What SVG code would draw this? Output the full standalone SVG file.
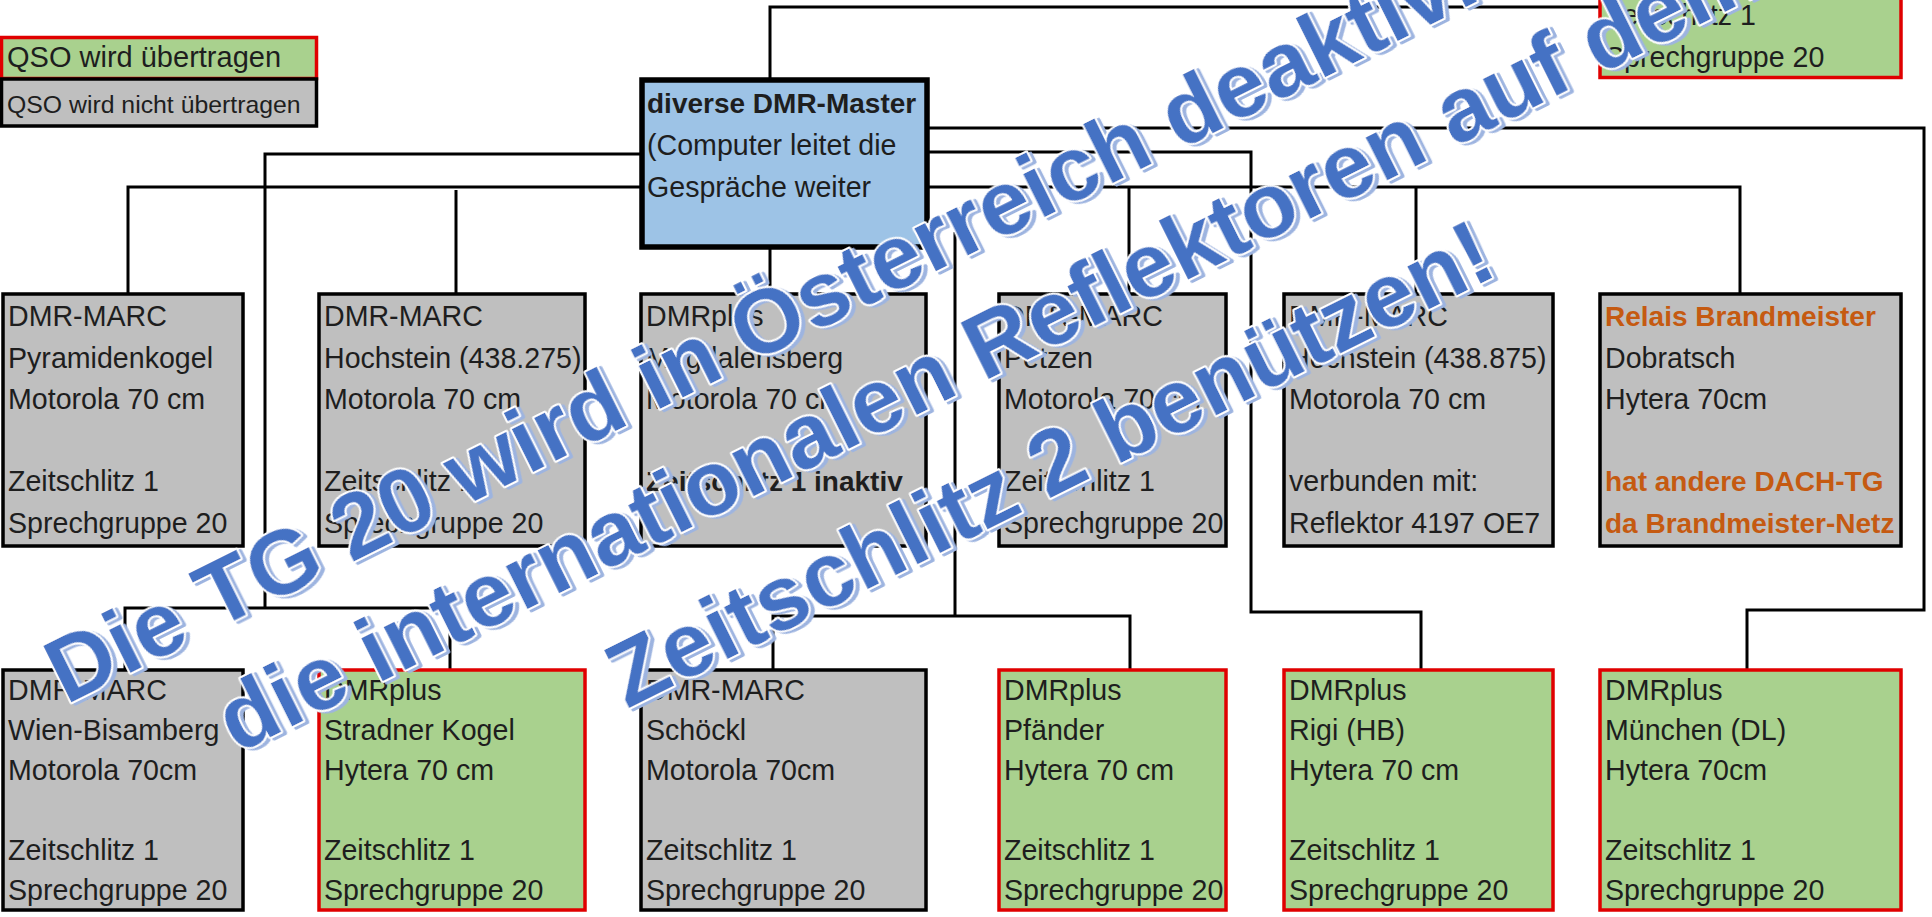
<svg xmlns="http://www.w3.org/2000/svg" width="1932" height="917" viewBox="0 0 1932 917">
<defs>
<style>
text{font-family:"Liberation Sans",Arial,sans-serif;font-size:28.6px;fill:#1e1e1e}
.gy{fill:#BFBFBF;stroke:#000;stroke-width:3.5}
.gn{fill:#A9D18E;stroke:#E00000;stroke-width:3.5}
.ms{fill:#9DC3E6;stroke:#000;stroke-width:5.5}
.b{font-weight:bold;font-size:28px}
.o{fill:#C55A11;font-weight:bold;font-size:28px}
.c path{stroke:#000;stroke-width:3;fill:none}
.ov{font-family:"Liberation Sans",Arial,sans-serif;font-size:91px;font-weight:bold;fill:#4472C4;stroke:#fff;stroke-width:4;paint-order:stroke;stroke-linejoin:round}
</style>
<filter id="sh" x="-5%" y="-20%" width="110%" height="140%">
<feOffset in="SourceAlpha" dx="3" dy="3" result="o"/>
<feFlood flood-color="#9DB4E0"/>
<feComposite in2="o" operator="in" result="s"/>
<feMerge><feMergeNode in="s"/><feMergeNode in="SourceGraphic"/></feMerge>
</filter>
</defs>
<rect width="1932" height="917" fill="#fff"/>

<g id="legend">
<rect class="gn" x="1.5" y="37.5" width="315" height="41"/>
<rect class="gy" x="1.5" y="79" width="315" height="47"/>
<text x="7" y="67" style="font-size:29px">QSO wird übertragen</text>
<text x="7" y="113" style="font-size:24.8px">QSO wird nicht übertragen</text>
</g>

<g class="c" id="connectors">
<path d="M770 80V7H1600"/>
<path d="M642 154H265V608"/>
<path d="M125 670V608H450V670"/>
<path d="M642 187H128V294"/>
<path d="M456 190V294"/>
<path d="M770 247V294"/>
<path d="M927 128H1924V610H1747V670"/>
<path d="M927 152H1251V612H1421V670"/>
<path d="M927 187H1740V294"/>
<path d="M1129 187V294"/>
<path d="M1416 187V294"/>
<path d="M955 232V616"/>
<path d="M773 670V616H1130V670"/>
</g>

<g id="top-partial">
<rect class="gn" x="1600" y="-20" width="301" height="97.5"/>
<text x="1605" y="25">Zeitschlitz 1</text>
<text x="1605" y="67">Sprechgruppe 20</text>
</g>

<g id="master">
<rect class="ms" x="642" y="80" width="285" height="167"/>
<text x="647" y="113" class="b">diverse DMR-Master</text>
<text x="647" y="155">(Computer leitet die</text>
<text x="647" y="197">Gespräche weiter</text>
</g>

<g id="pyramidenkogel">
<rect class="gy" x="3" y="294" width="240" height="252"/>
<text x="8" y="326">DMR-MARC</text>
<text x="8" y="368">Pyramidenkogel</text>
<text x="8" y="409">Motorola 70 cm</text>
<text x="8" y="491">Zeitschlitz 1</text>
<text x="8" y="533">Sprechgruppe 20</text>
</g>

<g id="hochstein275">
<rect class="gy" x="319" y="294" width="266" height="252"/>
<text x="324" y="326">DMR-MARC</text>
<text x="324" y="368">Hochstein (438.275)</text>
<text x="324" y="409">Motorola 70 cm</text>
<text x="324" y="491">Zeitschlitz 1</text>
<text x="324" y="533">Sprechgruppe 20</text>
</g>

<g id="magdalensberg">
<rect class="gy" x="641" y="294" width="285" height="252"/>
<text x="646" y="326">DMRplus</text>
<text x="646" y="368">Magdalensberg</text>
<text x="646" y="409">Motorola 70 cm</text>
<text x="646" y="491" class="b">Zeitschlitz 1 inaktiv</text>
</g>

<g id="petzen">
<rect class="gy" x="999" y="294" width="227" height="252"/>
<text x="1004" y="326">DMR-MARC</text>
<text x="1004" y="368">Petzen</text>
<text x="1004" y="409">Motorola 70 cm</text>
<text x="1004" y="491">Zeitschlitz 1</text>
<text x="1004" y="533">Sprechgruppe 20</text>
</g>

<g id="hochstein875">
<rect class="gy" x="1284" y="294" width="269" height="252"/>
<text x="1289" y="326">DMR-MARC</text>
<text x="1289" y="368">Hochstein (438.875)</text>
<text x="1289" y="409">Motorola 70 cm</text>
<text x="1289" y="491">verbunden mit:</text>
<text x="1289" y="533">Reflektor 4197 OE7</text>
</g>

<g id="dobratsch">
<rect class="gy" x="1600" y="294" width="301" height="252"/>
<text x="1605" y="326" class="o">Relais Brandmeister</text>
<text x="1605" y="368">Dobratsch</text>
<text x="1605" y="409">Hytera 70cm</text>
<text x="1605" y="491" class="o">hat andere DACH-TG</text>
<text x="1605" y="533" class="o">da Brandmeister-Netz</text>
</g>

<g id="bisamberg">
<rect class="gy" x="3" y="670" width="240" height="240"/>
<text x="8" y="700">DMR-MARC</text>
<text x="8" y="740">Wien-Bisamberg</text>
<text x="8" y="780">Motorola 70cm</text>
<text x="8" y="860">Zeitschlitz 1</text>
<text x="8" y="900">Sprechgruppe 20</text>
</g>

<g id="stradner">
<rect class="gn" x="319" y="670" width="266" height="240"/>
<text x="324" y="700">DMRplus</text>
<text x="324" y="740">Stradner Kogel</text>
<text x="324" y="780">Hytera 70 cm</text>
<text x="324" y="860">Zeitschlitz 1</text>
<text x="324" y="900">Sprechgruppe 20</text>
</g>

<g id="schoeckl">
<rect class="gy" x="641" y="670" width="285" height="240"/>
<text x="646" y="700">DMR-MARC</text>
<text x="646" y="740">Schöckl</text>
<text x="646" y="780">Motorola 70cm</text>
<text x="646" y="860">Zeitschlitz 1</text>
<text x="646" y="900">Sprechgruppe 20</text>
</g>

<g id="pfaender">
<rect class="gn" x="999" y="670" width="227" height="240"/>
<text x="1004" y="700">DMRplus</text>
<text x="1004" y="740">Pfänder</text>
<text x="1004" y="780">Hytera 70 cm</text>
<text x="1004" y="860">Zeitschlitz 1</text>
<text x="1004" y="900">Sprechgruppe 20</text>
</g>

<g id="rigi">
<rect class="gn" x="1284" y="670" width="269" height="240"/>
<text x="1289" y="700">DMRplus</text>
<text x="1289" y="740">Rigi (HB)</text>
<text x="1289" y="780">Hytera 70 cm</text>
<text x="1289" y="860">Zeitschlitz 1</text>
<text x="1289" y="900">Sprechgruppe 20</text>
</g>

<g id="muenchen">
<rect class="gn" x="1600" y="670" width="301" height="240"/>
<text x="1605" y="700">DMRplus</text>
<text x="1605" y="740">München (DL)</text>
<text x="1605" y="780">Hytera 70cm</text>
<text x="1605" y="860">Zeitschlitz 1</text>
<text x="1605" y="900">Sprechgruppe 20</text>
</g>

<g id="overlay" transform="translate(66,705) rotate(-26.5)" filter="url(#sh)">
<text class="ov" x="0" y="0">Die TG 20 wird in Österreich deaktiviert</text>
<text class="ov" x="131" y="120">die internationalen Reflektoren auf dem</text>
<text class="ov" x="500" y="254">Zeitschlitz 2 benützen!</text>
</g>
</svg>
